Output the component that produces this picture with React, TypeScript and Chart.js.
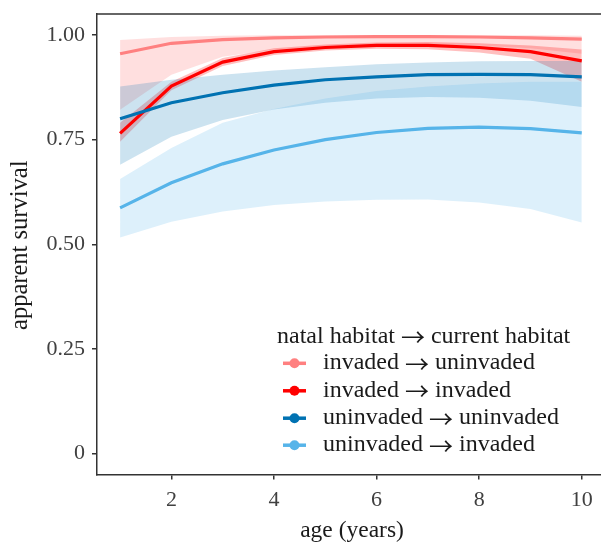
import React, { useEffect, useRef } from "react";
import { Chart, registerables } from "chart.js";

Chart.register(...registerables);

// ---- data ----
const ages = [1, 2, 3, 4, 5, 6, 7, 8, 9, 10];

const invUninv = [0.955, 0.98, 0.989, 0.993, 0.995, 0.996, 0.996, 0.995, 0.993, 0.99];
const invUninvLo = [0.821, 0.905, 0.948, 0.965, 0.973, 0.976, 0.977, 0.975, 0.968, 0.955];
const invUninvHi = [0.988, 0.995, 0.998, 0.999, 0.999, 0.999, 0.999, 0.999, 0.999, 0.998];

const invInv = [0.765, 0.878, 0.935, 0.96, 0.97, 0.975, 0.975, 0.97, 0.96, 0.938];
const invInvLo = [0.745, 0.868, 0.926, 0.952, 0.963, 0.967, 0.966, 0.958, 0.943, 0.888];
const invInvHi = [0.79, 0.888, 0.945, 0.968, 0.977, 0.982, 0.983, 0.98, 0.975, 0.965];

const uninvUninv = [0.8, 0.838, 0.862, 0.88, 0.893, 0.9, 0.905, 0.906, 0.905, 0.9];
const uninvUninvLo = [0.69, 0.757, 0.797, 0.822, 0.838, 0.848, 0.852, 0.85, 0.843, 0.828];
const uninvUninvHi = [0.877, 0.893, 0.905, 0.915, 0.923, 0.93, 0.934, 0.937, 0.938, 0.938];

const uninvInv = [0.587, 0.647, 0.692, 0.725, 0.75, 0.767, 0.777, 0.78, 0.776, 0.766];
const uninvInvLo = [0.516, 0.554, 0.578, 0.594, 0.602, 0.606, 0.607, 0.6, 0.584, 0.552];
const uninvInvHi = [0.656, 0.73, 0.79, 0.823, 0.848, 0.866, 0.877, 0.884, 0.888, 0.888];

const seriesNames = [
  "invaded → uninvaded",
  "invaded → invaded",
  "uninvaded → uninvaded",
  "uninvaded → invaded",
];
const legendTitle = "natal habitat → current habitat";
const xTitle = "age (years)";
const yTitle = "apparent survival";

const xTicks = [2, 4, 6, 8, 10];
const yTicks = [0, 0.25, 0.5, 0.75, 1];
const yTickLabels = ["0", "0.25", "0.50", "0.75", "1.00"];

const lineColors = ["#FF8080", "#FF0000", "#0072B2", "#56B4E9"];
const ribbonColors = [
  "rgba(255,128,128,0.25)",
  "rgba(255,0,0,0.25)",
  "rgba(0,114,178,0.2)",
  "rgba(86,180,233,0.2)",
];

const SERIF = '"Liberation Serif", "Times New Roman", "DejaVu Serif", serif';
const ARROW_FONT = '"Noto Sans CJK JP", "Noto Sans CJK SC", "DejaVu Sans", sans-serif';

// draws "left → right" with a full-width thin arrow, as real text
function drawArrowText(ctx: CanvasRenderingContext2D, text: string, x: number, baseline: number, size: number) {
  const parts = text.split(" → ");
  ctx.font = `${size}px ${SERIF}`;
  ctx.textAlign = "left";
  ctx.textBaseline = "alphabetic";
  const left = parts[0] + " ";
  ctx.fillText(left, x, baseline);
  const ax = x + ctx.measureText(left).width;
  ctx.save();
  ctx.font = `${size}px ${ARROW_FONT}`;
  const aw = ctx.measureText("→").width;
  ctx.textBaseline = "middle";
  ctx.translate(ax, baseline - size * 0.23);
  ctx.scale(size / aw, 1);
  ctx.fillText("→", 0, 0);
  ctx.restore();
  ctx.font = `${size}px ${SERIF}`;
  ctx.textBaseline = "alphabetic";
  ctx.fillText(" " + parts[1], ax + size, baseline);
}

export default function App() {
  const ref = useRef<HTMLCanvasElement | null>(null);

  useEffect(() => {
    document.body.style.margin = "0";
    const canvas = ref.current;
    if (!canvas) return;

    const means = [invUninv, invInv, uninvUninv, uninvInv];
    const los = [invUninvLo, invInvLo, uninvUninvLo, uninvInvLo];
    const his = [invUninvHi, invInvHi, uninvUninvHi, uninvInvHi];

    const toPts = (arr: number[]) => arr.map((v, i) => ({ x: ages[i], y: v }));

    const datasets: any[] = [];
    for (let k = 0; k < 4; k++) {
      datasets.push({
        data: toPts(his[k]),
        fill: "+1",
        backgroundColor: ribbonColors[k],
        borderColor: "rgba(0,0,0,0)",
        borderWidth: 0,
        pointRadius: 0,
        tension: 0,
        order: 20 - k,
      });
      datasets.push({
        data: toPts(los[k]),
        fill: false,
        backgroundColor: "rgba(0,0,0,0)",
        borderColor: "rgba(0,0,0,0)",
        borderWidth: 0,
        pointRadius: 0,
        tension: 0,
        order: 20 - k,
      });
    }
    for (let k = 0; k < 4; k++) {
      datasets.push({
        data: toPts(means[k]),
        fill: false,
        borderColor: lineColors[k],
        backgroundColor: lineColors[k],
        borderWidth: 3.2,
        pointRadius: 0,
        tension: 0,
        order: 10 - k,
      });
    }

    const overlay = {
      id: "overlay",
      afterDraw(chart: any) {
        const ctx = chart.ctx as CanvasRenderingContext2D;
        const ca = chart.chartArea;
        ctx.save();
        // top border
        ctx.strokeStyle = "#333";
        ctx.lineWidth = 1.5;
        ctx.beginPath();
        ctx.moveTo(ca.left - 0.75, ca.top);
        ctx.lineTo(chart.width, ca.top);
        ctx.stroke();

        // axis titles
        ctx.fillStyle = "#1a1a1a";
        ctx.font = `23.5px ${SERIF}`;
        ctx.textAlign = "center";
        ctx.textBaseline = "alphabetic";
        ctx.fillText(xTitle, 352, 536.5);
        ctx.save();
        ctx.font = `24.5px ${SERIF}`;
        ctx.translate(27, (ca.top + ca.bottom) / 2 + 1);
        ctx.rotate(-Math.PI / 2);
        ctx.fillText(yTitle, 0, 0);
        ctx.restore();

        // legend
        ctx.fillStyle = "#1a1a1a";
        drawArrowText(ctx, legendTitle, 277, 342.5, 24);
        const rows = [363.3, 390.8, 418.2, 445.2];
        for (let k = 0; k < 4; k++) {
          const y = rows[k];
          ctx.strokeStyle = lineColors[k];
          ctx.lineWidth = 3.5;
          ctx.beginPath();
          ctx.moveTo(283, y);
          ctx.lineTo(306, y);
          ctx.stroke();
          ctx.fillStyle = lineColors[k];
          ctx.beginPath();
          ctx.arc(294.5, y, 5, 0, Math.PI * 2);
          ctx.fill();
          ctx.fillStyle = "#1a1a1a";
          drawArrowText(ctx, seriesNames[k], 323, y + 5.8, 24);
        }
        ctx.restore();
      },
    };

    const chart = new Chart(canvas, {
      type: "line",
      data: { datasets },
      options: {
        animation: false,
        responsive: false,
        devicePixelRatio: 1,
        layout: { padding: { top: 14, right: 0, left: 0, bottom: 0 } },
        plugins: {
          legend: { display: false },
          tooltip: { enabled: false },
          filler: { propagate: false },
        },
        scales: {
          x: {
            type: "linear",
            min: 0.55,
            max: 10.375,
            afterBuildTicks: (s: any) => {
              s.ticks = xTicks.map((v) => ({ value: v }));
            },
            afterFit: (s: any) => {
              s.height = 70.5;
              s.paddingLeft = 0;
              s.paddingRight = 0;
              s.paddingTop = 0;
              s.paddingBottom = 0;
            },
            ticks: {
              autoSkip: false,
              maxRotation: 0,
              padding: 8,
              color: "#404040",
              font: { family: SERIF, size: 22 },
              callback: (v: any) => String(v),
            },
            grid: {
              display: true,
              drawOnChartArea: false,
              drawTicks: true,
              tickLength: 5,
              color: "#333",
              lineWidth: 1.5,
            },
            border: { display: true, color: "#333", width: 1.5 },
          },
          y: {
            type: "linear",
            min: -0.05,
            max: 1.05,
            afterBuildTicks: (s: any) => {
              s.ticks = yTicks.map((v) => ({ value: v }));
            },
            afterFit: (s: any) => {
              s.width = 97;
              s.paddingLeft = 0;
              s.paddingRight = 0;
              s.paddingTop = 0;
              s.paddingBottom = 0;
            },
            ticks: {
              autoSkip: false,
              padding: 7,
              color: "#404040",
              font: { family: SERIF, size: 22 },
              callback: (v: any) => {
                const i = yTicks.indexOf(Number(v));
                return i >= 0 ? yTickLabels[i] : "";
              },
            },
            grid: {
              display: true,
              drawOnChartArea: false,
              drawTicks: true,
              tickLength: 5,
              color: "#333",
              lineWidth: 1.5,
            },
            border: { display: true, color: "#333", width: 1.5 },
          },
        },
      },
      plugins: [overlay],
    });

    return () => chart.destroy();
  }, []);

  return (
    <div style={{ position: "absolute", left: 0, top: 0, width: 601, height: 545, background: "#fff" }}>
      <canvas ref={ref} width={601} height={545} style={{ width: 601, height: 545, display: "block" }} />
    </div>
  );
}
